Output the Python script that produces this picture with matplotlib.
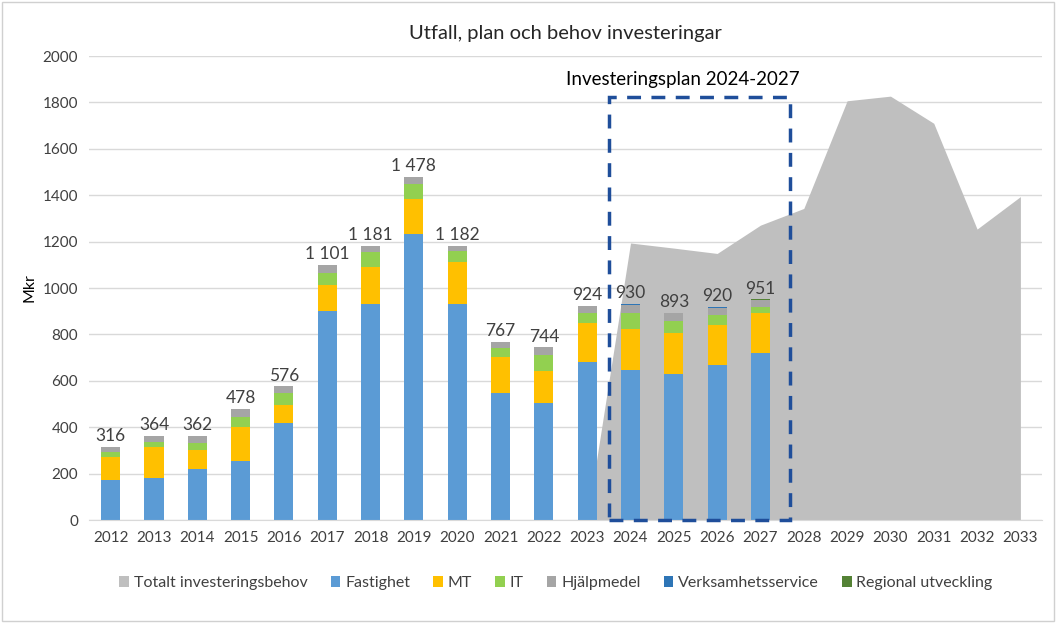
import matplotlib.pyplot as plt
from matplotlib.patches import Rectangle
import numpy as np

plt.rcParams['font.family'] = ['Lato', 'DejaVu Sans']

years = [str(y) for y in range(2012, 2034)]

# bars only for 2012-2027
fastighet = [172, 180, 220, 254, 417, 902, 933, 1233, 930, 549, 506, 680, 647, 628, 667, 721]
mt = [101, 136, 82, 148, 77, 111, 159, 149, 182, 155, 136, 168, 175, 176, 172, 170]
it = [20, 22, 31, 41, 52, 53, 63, 68, 46, 37, 71, 46, 72, 55, 44, 26]
hjalpmedel = [23, 26, 29, 35, 30, 35, 26, 28, 24, 26, 31, 30, 31, 32, 32, 31]
verksamhet = [0, 0, 0, 0, 0, 0, 0, 0, 0, 0, 0, 0, 4, 2, 4, 2]
regional = [0, 0, 0, 0, 0, 0, 0, 0, 0, 0, 0, 0, 1, 0, 1, 1]

# total need (area), 2012-2033
totalt = [0, 0, 0, 0, 0, 0, 0, 0, 0, 0, 0, 0,
          1194, 1172, 1149, 1271, 1343, 1807, 1827, 1710, 1254, 1394]

series = [
    ("Fastighet", fastighet, "#5B9BD5"),
    ("MT", mt, "#FFC000"),
    ("IT", it, "#92D050"),
    ("Hjälpmedel", hjalpmedel, "#A5A5A5"),
    ("Verksamhetsservice", verksamhet, "#2E75B6"),
    ("Regional utveckling", regional, "#548235"),
]

fig = plt.figure(figsize=(10.56, 6.23), dpi=100)
ax = fig.add_axes([0.0843, 0.1653, 0.9025, 0.7448])

x_all = np.arange(len(years))
ax.fill_between(x_all, totalt, 0, color="#BFBFBF", linewidth=0,
                label="Totalt investeringsbehov", zorder=1)

xb = np.arange(len(fastighet))
bottom = np.zeros(len(fastighet))
for name, vals, col in series:
    ax.bar(xb, vals, width=0.44, bottom=bottom, color=col, label=name, zorder=2)
    bottom += np.array(vals)

for i, tot in enumerate(bottom):
    txt = f"{int(tot):,}".replace(",", " ")
    ax.text(i, tot + 12, txt, ha="center", va="bottom", fontsize=12.5,
            color="#404040", zorder=4)

# investment plan box
box = Rectangle((11.5, 0), 4.18, 1823, fill=False, edgecolor="#1F4E9A",
                linestyle=(0, (4, 3)), linewidth=2.5, zorder=5, clip_on=False)
ax.add_patch(box)
ax.text(13.2, 1860, "Investeringsplan 2024-2027", ha="center", va="bottom",
        fontsize=13.5, color="#000000")

ax.set_xlim(-0.5, len(years) - 0.5)
ax.set_ylim(0, 2000)
ax.set_yticks(np.arange(0, 2001, 200))
ax.set_xticks(x_all)
ax.set_xticklabels(years)
ax.tick_params(axis="both", length=0, labelsize=11, colors="#404040", pad=8)
ax.grid(axis="y", color="#D9D9D9", linewidth=1, zorder=0)
ax.set_axisbelow(True)
for s in ["top", "right", "left"]:
    ax.spines[s].set_visible(False)
ax.spines["bottom"].set_color("#D9D9D9")
ax.set_ylabel("Mkr", fontsize=11.5, color="#000000", labelpad=4)

ax.set_title("Utfall, plan och behov investeringar", fontsize=14.5,
             color="#262626", pad=12)

handles, labels = ax.get_legend_handles_labels()
ax.legend(handles, labels, loc="upper center", bbox_to_anchor=(0.49, -0.09),
          ncol=7, frameon=False, fontsize=11.5, handlelength=0.6,
          handleheight=0.6, handletextpad=0.3, columnspacing=1.45,
          labelcolor="#404040")

fig.patches.append(Rectangle((0.002, 0.003), 0.996, 0.994, transform=fig.transFigure,
                             fill=False, edgecolor="#D0D0D0", linewidth=1))

fig.savefig("out.png", dpi=100)
